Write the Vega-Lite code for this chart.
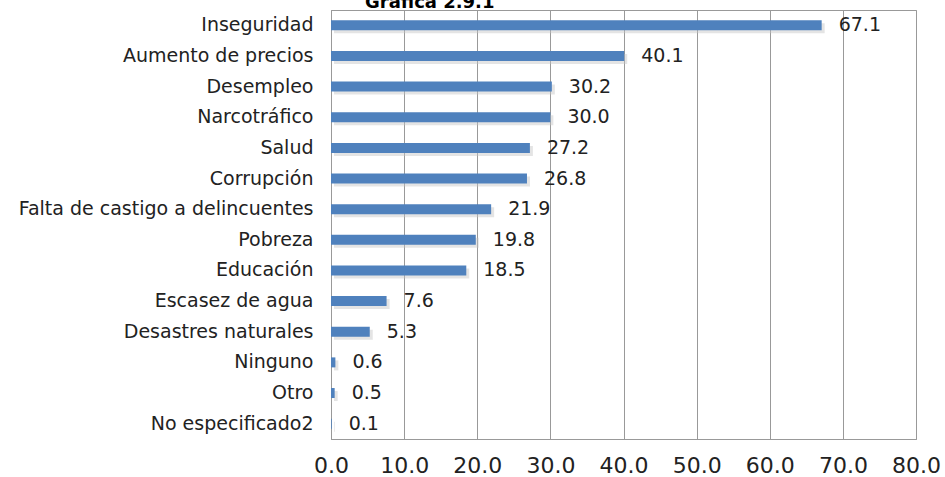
{
  "$schema": "https://vega.github.io/schema/vega-lite/v6.json",
  "width": 585,
  "height": 429,
  "autosize": {"type": "none"},
  "padding": {"left": 331, "top": 10, "right": 29, "bottom": 38},
  "background": "white",
  "title": {"text": "Gráfica 2.9.1", "font": "DejaVu Sans", "fontSize": 18, "fontWeight": "bold", "color": "#000", "anchor": "start", "frame": "group", "dx": 34, "offset": -16, "baseline": "alphabetic"},
  "data": {"values": [
    {"tema": "Inseguridad", "pct": 67.1},
    {"tema": "Aumento de precios", "pct": 40.1},
    {"tema": "Desempleo", "pct": 30.2},
    {"tema": "Narcotráfico", "pct": 30.0},
    {"tema": "Salud", "pct": 27.2},
    {"tema": "Corrupción", "pct": 26.8},
    {"tema": "Falta de castigo a delincuentes", "pct": 21.9},
    {"tema": "Pobreza", "pct": 19.8},
    {"tema": "Educación", "pct": 18.5},
    {"tema": "Escasez de agua", "pct": 7.6},
    {"tema": "Desastres naturales", "pct": 5.3},
    {"tema": "Ninguno", "pct": 0.6},
    {"tema": "Otro", "pct": 0.5},
    {"tema": "No especificado2", "pct": 0.1}
  ]},
  "encoding": {
    "y": {"field": "tema", "type": "nominal", "sort": null, "title": null,
      "axis": {"labelFont": "DejaVu Sans", "labelFontSize": 19, "labelColor": "#222", "labelPadding": 18, "ticks": false, "domain": true, "domainColor": "#999", "labelLimit": 400}},
    "x": {"field": "pct", "type": "quantitative", "title": null,
      "scale": {"domain": [0, 80], "nice": false},
      "axis": {"values": [0,10,20,30,40,50,60,70,80], "format": ".1f", "labelFont": "DejaVu Sans", "labelFontSize": 22, "labelColor": "#222", "labelPadding": 16, "ticks": false, "grid": true, "gridColor": "#999", "domainColor": "#999", "labelFlush": false}}
  },
  "layer": [
    {"mark": {"type": "bar", "size": 10, "color": "#c4c4c4", "opacity": 0.45, "xOffset": 3, "yOffset": 3}},
    {"mark": {"type": "bar", "size": 10, "color": "#4f81bd"}},
    {"mark": {"type": "text", "align": "left", "dx": 17, "font": "DejaVu Sans", "fontSize": 19, "color": "#222"},
     "encoding": {"text": {"field": "pct", "type": "quantitative", "format": ".1f"}}}
  ],
  "config": {"view": {"stroke": "#999"}}
}
